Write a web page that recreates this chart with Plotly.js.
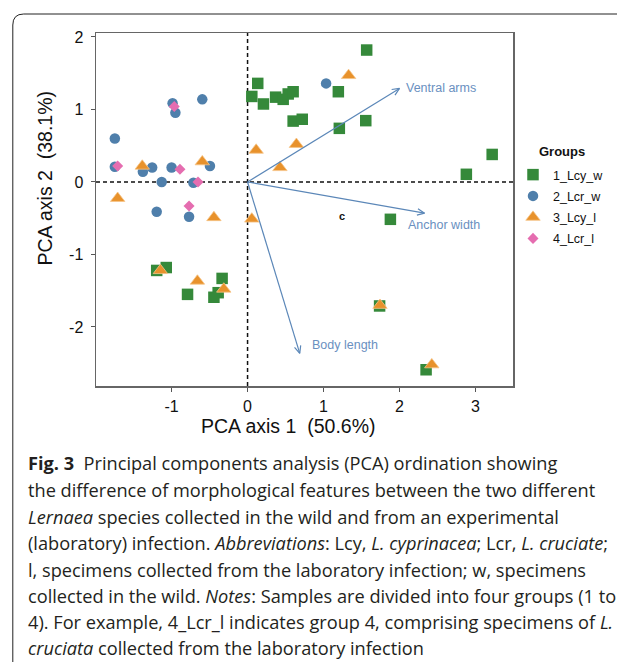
<!DOCTYPE html>
<html><head><meta charset="utf-8">
<script src="https://cdn.plot.ly/plotly-3.0.1.min.js"></script>
<style>html,body{margin:0;padding:0;background:#fff;}#chart{width:621px;height:664px;}</style>
</head><body><div id="chart"></div>
<script>
// ---------- data ----------
const groupNames = ['1_Lcy_w', '2_Lcr_w', '3_Lcy_l', '4_Lcr_l'];

const g1x = [-1.196, -1.07, -0.79, -0.335, -0.387, -0.443,
             0.134, 0.056, 0.209, 0.369, 0.469, 0.535, 0.60, 0.60, 0.72, 1.568, 1.195, 1.556, 1.208,
             3.22, 2.88, 1.88, 1.738, 2.35];
const g1y = [-1.22, -1.18, -1.55, -1.33, -1.527, -1.59,
             1.36, 1.18, 1.076, 1.17, 1.14, 1.214, 1.245, 0.84, 0.865, 1.82, 1.245, 0.846, 0.74,
             0.38, 0.106, -0.515, -1.71, -2.59];

const g2x = [-0.987, -0.95, -0.596, -1.747, -1.747, -1.378, -1.256, -1.0, -0.495, -1.13, -0.713, -1.196, -0.77, 1.034];
const g2y = [1.086, 0.956, 1.14, 0.60, 0.21, 0.142, 0.20, 0.20, 0.22, 0.0, -0.01, -0.41, -0.48, 1.36];

const g3x = [-1.386, -0.596, -1.71, -0.443, 0.056, 0.113, 0.643, 1.33, 0.426, -1.147, -0.66, -0.313, 1.743, 2.425];
const g3y = [0.22, 0.28, -0.225, -0.49, -0.51, 0.44, 0.52, 1.47, 0.20, -1.22, -1.366, -1.476, -1.70, -2.52];

const g4x = [-0.965, -1.71, -0.89, -0.652, -0.77];
const g4y = [1.04, 0.22, 0.175, 0.0, -0.33];

const loadingNames = ['Ventral arms', 'Anchor width', 'Body length'];
const loadingX = [2.0, 2.33, 0.687];
const loadingY = [1.29, -0.43, -2.363];

const markText = 'c';
const markX = 1.24, markY = -0.47;

const xTickVals = [-1, 0, 1, 2, 3];
const xTickText = ['-1', '0', '1', '2', '3'];
const yTickVals = [-2, -1, 0, 1, 2];
const yTickText = ['-2', '-1', '0', '1', '2'];
const xTitle = 'PCA axis 1\u00A0\u00A0(50.6%)';
const yTitle = 'PCA axis 2\u00A0\u00A0(38.1%)';
const legendTitle = 'Groups';

const captionLines = [
  '<b>Fig. 3</b>\u00A0 Principal components analysis (PCA) ordination showing',
  'the difference of morphological features between the two different',
  '<i>Lernaea</i> species collected in the wild and from an experimental',
  '(laboratory) infection. <i>Abbreviations</i>: Lcy, <i>L. cyprinacea</i>; Lcr, <i>L. cruciate</i>;',
  'l, specimens collected from the laboratory infection; w, specimens',
  'collected in the wild. <i>Notes</i>: Samples are divided into four groups (1 to',
  '4). For example, 4_Lcr_l indicates group 4, comprising specimens of <i>L.</i>',
  '<i>cruciata</i> collected from the laboratory infection'
];

// ---------- layout geometry ----------
const W = 621, H = 664, L = 96, R = 104, T = 33, B = 278;
const pw = W - L - R, ph = H - T - B;
const xr = [-1.995, 3.494], yr = [-2.814, 2.055];
const sx = pw / (xr[1] - xr[0]), sy = ph / (yr[1] - yr[0]);
const pX = px => (px - L) / pw;
const pY = py => (T + ph - py) / ph;

const colors = ['#35893a', '#4f7fab', '#e8922c', '#e56db0'];
const symbols = ['square', 'circle', 'triangle-up', 'diamond'];
const sizes = [11.5, 10.5, 12.5, 8.5];
const gx = [g1x, g2x, g3x, g4x], gy = [g1y, g2y, g3y, g4y];

const traces = groupNames.map((n, i) => ({
  type: 'scatter', mode: 'markers', name: n, x: gx[i], y: gy[i],
  legendgroup: 'g' + i,
  marker: {symbol: symbols[i], size: sizes[i], color: colors[i],
           line: {width: i === 2 ? 0.8 : 0, color: i === 2 ? '#f6c487' : colors[i]}},
  hoverinfo: 'x+y'
}));

// arrows (loadings)
const ax = [], ay = [];
const headLen = 8, headAng = 24 * Math.PI / 180;
loadingX.forEach((tx, k) => {
  const ty = loadingY[k];
  const vx = tx * sx, vy = ty * sy;
  const len = Math.hypot(vx, vy);
  const ux = -vx / len, uy = -vy / len;
  ax.push(0, tx, null); ay.push(0, ty, null);
  const barbs = [headAng, -headAng].map(a => {
    const rx = ux * Math.cos(a) - uy * Math.sin(a);
    const ry = ux * Math.sin(a) + uy * Math.cos(a);
    return [tx + headLen * rx / sx, ty + headLen * ry / sy];
  });
  ax.push(barbs[0][0], tx, barbs[1][0], null);
  ay.push(barbs[0][1], ty, barbs[1][1], null);
});
traces.push({type: 'scatter', mode: 'lines', x: ax, y: ay, showlegend: false,
  hoverinfo: 'skip', line: {color: '#5b87b8', width: 1.2}});

const labelOffsets = [[4, 0], [-19, -12], [10, 8]];
const annotations = loadingNames.map((n, k) => ({
  x: loadingX[k], y: loadingY[k], xref: 'x', yref: 'y', text: n, showarrow: false,
  xanchor: 'left', yanchor: 'middle', xshift: labelOffsets[k][0], yshift: labelOffsets[k][1],
  font: {family: 'Liberation Sans, Arial, sans-serif', size: 12.5, color: '#6a90bf'}
}));
annotations.push({x: markX, y: markY, xref: 'x', yref: 'y', text: '<b>' + markText + '</b>',
  showarrow: false, font: {family: 'Liberation Sans, Arial, sans-serif', size: 11, color: '#111'}});
annotations.push({x: pX(290), y: pY(426), xref: 'paper', yref: 'paper', text: xTitle, showarrow: false,
  xanchor: 'center', yanchor: 'middle', font: {family: 'Liberation Sans, Arial, sans-serif', size: 19.5, color: '#111'}});
annotations.push({x: pX(45), y: pY(178), xref: 'paper', yref: 'paper', text: yTitle, showarrow: false,
  textangle: -90, xanchor: 'center', yanchor: 'middle', font: {family: 'Liberation Sans, Arial, sans-serif', size: 19.5, color: '#111'}});
annotations.push({x: pX(566), y: pY(151), xref: 'paper', yref: 'paper', text: '<b>' + legendTitle + '</b>', showarrow: false,
  xanchor: 'center', yanchor: 'middle', font: {family: 'Liberation Sans, Arial, sans-serif', size: 13, color: '#111'}});
const capY = [463, 490, 517, 543, 570, 596, 622, 648];
captionLines.forEach((t, i) => annotations.push({
  x: pX(25), y: pY(capY[i]), xref: 'paper', yref: 'paper', text: t, showarrow: false,
  xanchor: 'left', yanchor: 'middle', align: 'left',
  font: {family: 'Open Sans, sans-serif', size: 18.2, color: '#231f20'}
}));

const shapes = [
  {type: 'line', xref: 'x', yref: 'paper', x0: 0, x1: 0, y0: 0, y1: 1, layer: 'below',
   line: {color: '#111', width: 1.5, dash: '4px,3px'}},
  {type: 'line', xref: 'paper', yref: 'y', x0: 0, x1: 1, y0: 0, y1: 0, layer: 'below',
   line: {color: '#111', width: 1.5, dash: '4px,3px'}},
  {type: 'path', xref: 'paper', yref: 'paper', layer: 'above',
   path: `M ${pX(12)},${pY(662)} L ${pX(12)},${pY(25)} Q ${pX(12)},${pY(14)} ${pX(23)},${pY(14)} L ${pX(622)},${pY(14)}`,
   line: {color: '#222', width: 1}}
];

const axisFont = {family: 'Liberation Sans, Arial, sans-serif', size: 16, color: '#111'};
const layout = {
  width: W, height: H, margin: {l: L, r: R, t: T, b: B, pad: 0},
  paper_bgcolor: '#fff', plot_bgcolor: '#fff',
  xaxis: {range: xr, tickvals: xTickVals, ticktext: xTickText, ticks: 'outside', ticklen: 4, tickcolor: '#555', tickwidth: 1,
          showgrid: false, zeroline: false, showline: true, linecolor: '#666', linewidth: 1.5, mirror: true,
          tickfont: axisFont, ticklabelstandoff: 1},
  yaxis: {range: yr, tickvals: yTickVals, ticktext: yTickText, ticks: 'outside', ticklen: 4, tickcolor: '#555', tickwidth: 1,
          showgrid: false, zeroline: false, showline: true, linecolor: '#666', linewidth: 1.5, mirror: true,
          tickfont: axisFont, ticklabelstandoff: 4},
  showlegend: true,
  legend: {x: 1.0, xanchor: 'left', y: pY(160), yanchor: 'top', traceorder: 'grouped', tracegroupgap: 2,
           bgcolor: 'rgba(0,0,0,0)', font: {family: 'Liberation Sans, Arial, sans-serif', size: 12.5, color: '#111'}},
  annotations: annotations, shapes: shapes
};

Plotly.newPlot('chart', traces, layout, {displayModeBar: false, staticPlot: true});
</script></body></html>
